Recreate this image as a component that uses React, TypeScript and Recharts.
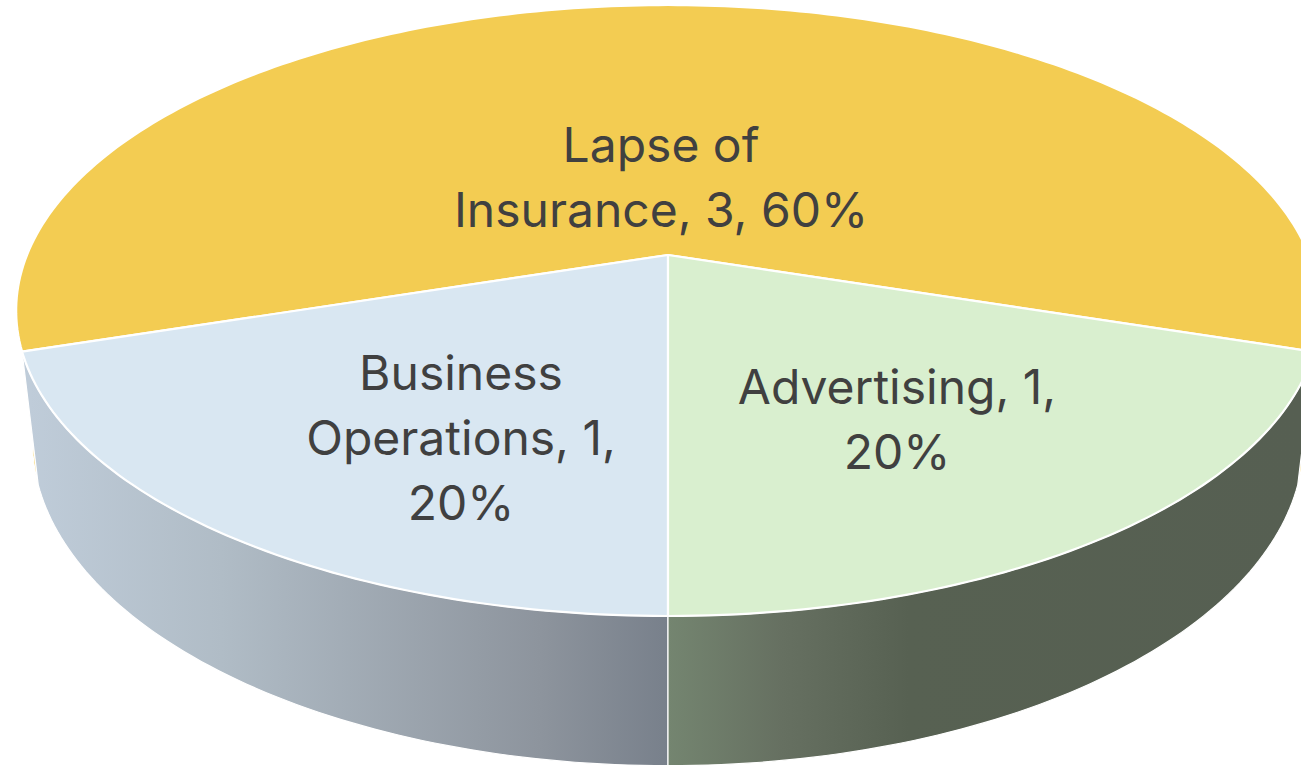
import React from "react";
import { PieChart, Pie } from "recharts";

const names = ["Lapse of Insurance", "Business Operations", "Advertising"];
const values = [3, 1, 1];
const topColors = ["#F3CC52", "#D9E7F2", "#D9EFCF"];
const sideFills = ["#F3CC52", "url(#sideBusiness)", "url(#sideAdvertising)"];
const labelLines = [
  ["Lapse of", "Insurance, 3, 60%"],
  ["Business", "Operations, 1,", "20%"],
  ["Advertising, 1,", "20%"],
];
// label centre x and first baseline, relative to the pie's centre
const labelOffsets = [
  [-7, -93],
  [-207, 135],
  [229, 149],
];

const W = 1301;
const H = 767;
const CX = 668;
const CY = 255;
const R = 295.4;
const LINE = 65;

// perspective projection of a flat disc on to the page
const TOP = { a: 641 / R, b: 1, k: 0.1817, dy: 0 };
const BOTTOM = { a: 625 / R, b: 314 / R, k: 0.1817, dy: 127 };

type Plane = typeof TOP;

const project = (p: Plane, cx: number, cy: number, r: number, deg: number) => {
  const c = Math.cos((deg * Math.PI) / 180);
  const s = Math.sin((deg * Math.PI) / 180);
  const w = 1 + p.k * s;
  return [cx + (p.a * r * c) / w, cy + p.dy - (p.b * r * s) / w];
};

const arc = (p: Plane, cx: number, cy: number, r: number, from: number, to: number) => {
  const n = Math.max(2, Math.ceil(Math.abs(to - from)));
  const pts: number[][] = [];
  for (let i = 0; i <= n; i++) pts.push(project(p, cx, cy, r, from + ((to - from) * i) / n));
  return pts;
};

const toPath = (pts: number[][]) =>
  "M" + pts.map(([x, y]) => `${x.toFixed(2)},${y.toFixed(2)}`).join("L") + "Z";

const Slice = (props: any) => {
  const { cx, cy, outerRadius, startAngle, endAngle, index } = props;
  const top = arc(TOP, cx, cy, outerRadius, startAngle, endAngle);
  const bottom = arc(BOTTOM, cx, cy, outerRadius, endAngle, startAngle);
  return (
    <g>
      <path d={toPath([...top, ...bottom])} fill={sideFills[index]} stroke="#FFFFFF" strokeWidth={1.2} strokeLinejoin="round" />
      <path d={toPath([[cx, cy], ...top])} fill={topColors[index]} stroke="#FFFFFF" strokeWidth={2.2} strokeLinejoin="round" />
    </g>
  );
};

const renderLabel = (props: any) => {
  const { index } = props;
  const [dx, dy] = labelOffsets[index];
  return (
    <text
      key={index}
      x={CX + dx}
      y={CY + dy}
      textAnchor="middle"
      fill="#404040"
      fontFamily="Inter, 'Noto Sans', sans-serif"
      fontSize={48}
    >
      {labelLines[index].map((line, i) => (
        <tspan key={i} x={CX + dx} y={CY + dy + i * LINE}>
          {line}
        </tspan>
      ))}
    </text>
  );
};

const data = names.map((name, i) => ({ name, value: values[i] }));

export default function App() {
  return (
    <div style={{ position: "absolute", left: 0, top: 0, width: W, height: H, overflow: "hidden", background: "#FFFFFF" }}>
      <PieChart width={W} height={H} margin={{ top: 0, right: 0, bottom: 0, left: 0 }}>
        <defs>
          <linearGradient id="sideBusiness" gradientUnits="userSpaceOnUse" x1={30} y1={0} x2={668} y2={0}>
            <stop offset="0%" stopColor="#BFCCD9" />
            <stop offset="30%" stopColor="#B0BCC6" />
            <stop offset="80%" stopColor="#8D949D" />
            <stop offset="100%" stopColor="#78808B" />
          </linearGradient>
          <linearGradient id="sideAdvertising" gradientUnits="userSpaceOnUse" x1={668} y1={0} x2={1301} y2={0}>
            <stop offset="0%" stopColor="#748570" />
            <stop offset="18%" stopColor="#667061" />
            <stop offset="38%" stopColor="#576152" />
            <stop offset="100%" stopColor="#565F52" />
          </linearGradient>
        </defs>
        <Pie
          data={data}
          dataKey="value"
          nameKey="name"
          cx={CX}
          cy={CY}
          innerRadius={0}
          outerRadius={R}
          startAngle={-18}
          endAngle={342}
          paddingAngle={0}
          shape={Slice}
          label={renderLabel}
          labelLine={false}
          isAnimationActive={false}
        />
      </PieChart>
    </div>
  );
}
